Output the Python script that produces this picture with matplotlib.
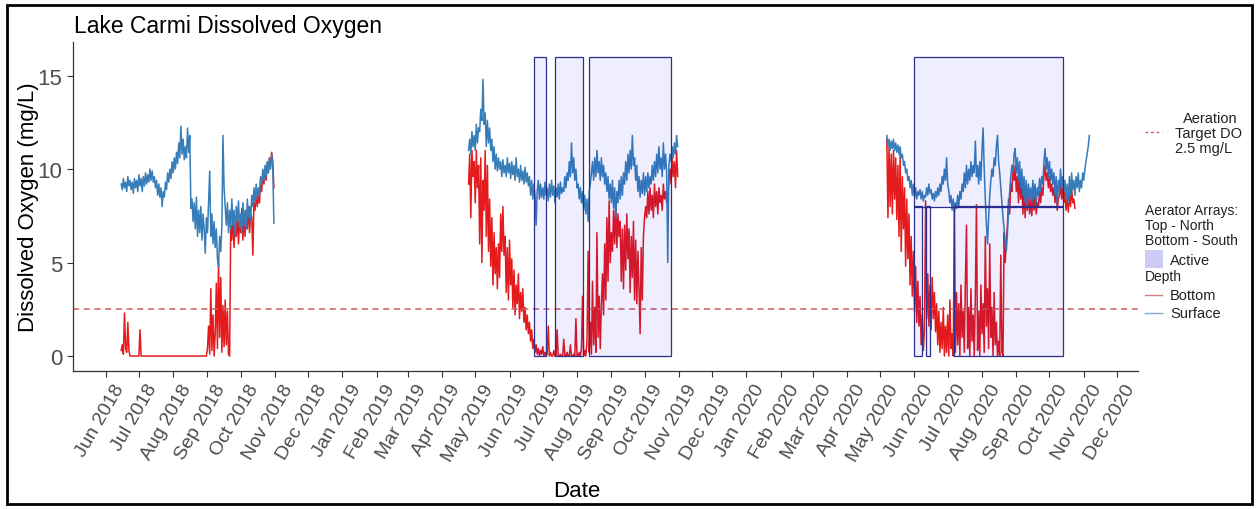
import numpy as np
import pandas as pd
import matplotlib
matplotlib.use("Agg")
import matplotlib.pyplot as plt
import matplotlib.dates as mdates
import matplotlib.transforms as mtransforms
from matplotlib.patches import Rectangle
from matplotlib.lines import Line2D

plt.rcParams['font.family'] = ['Liberation Sans', 'DejaVu Sans']
nan = np.nan

# ---------------- data (daily readings) ----------------
start_2018 = "2018-06-15"
surface_2018 = [9.2, 8.9, 9.5, 9.0, 9.3, 8.8, 9.6, 9.1, 9.4, 8.9,
                9.3, 8.7, 9.5, 9.0, 9.4, 8.8, 9.7, 9.1, 9.5, 8.8,
                9.6, 9.1, 9.8, 9.2, 9.7, 9.3, 10.0, 9.4, 9.9, 9.3,
                9.6, 9.0, 9.4, 8.6, 9.2, 8.5, 9.0, 8.0, 8.8, 8.5,
                9.3, 8.9, 9.8, 9.3, 10.0, 9.5, 10.4, 9.8, 10.6, 10.0,
                10.9, 10.3, 11.4, 10.6, 12.3, 10.8, 11.6, 10.5, 11.2, 10.6, 12.2, 10.9, 11.8,
                7.9,
                8.4, 7.2, 8.2, 6.8, 8.5, 6.4, 7.8, 6.6, 8.0, 6.2, 7.6, 6.8, 5.5, 7.4, 6.6,
                8.2, 9.9, 6.4, 7.6, 6.0, 7.2,
                5.8, 6.8, 5.2, 4.8, 6.4, 5.6, 7.0,
                11.8, 9.0,
                8.0, 7.0, 8.2, 6.6, 7.8, 6.8, 8.4, 7.0, 7.8, 6.4, 8.0, 7.2, 8.3, 6.9, 7.6,
                6.6, 8.2, 7.0, 7.8, 6.8, 8.4, 7.4, 8.0, 7.2,
                8.6, 8.0, 9.0, 8.2, 9.2, 8.4, 9.0, 8.6,
                9.6, 9.2, 10.0, 9.4, 10.2, 9.6, 10.4, 9.8, 10.6, 10.0, 10.8, 10.2,
                7.1]
bottom_2018 = [0.3, 0.6, 0.1, 2.3, 0.4, 0.2, 1.8, 0.3, 0.0, 0.0,
               0.0, 0.0, 0.0, 0.0, 0.0, 0.0, 0.0, 1.4, 0.0, 0.0,
               0.0, 0.0, 0.0, 0.0, 0.0, 0.0, 0.0, 0.0, 0.0, 0.0,
               0.0, 0.0, 0.0, 0.0, 0.0, 0.0, 0.0, 0.0, 0.0, 0.0,
               0.0, 0.0, 0.0, 0.0, 0.0, 0.0, 0.0, 0.0, 0.0, 0.0,
               0.0, 0.0, 0.0, 0.0, 0.0, 0.0, 0.0, 0.0, 0.0, 0.0, 0.0, 0.0, 0.0,
               0.0,
               0.0, 0.0, 0.0, 0.0, 0.0, 0.0, 0.0, 0.0, 0.0, 0.0, 0.0, 0.0, 0.0, 0.0,
               0.4, 1.6, 0.1, 3.6, 0.3, 2.2, 0.0,
               1.2, 3.9, 0.4, 5.0, 1.0, 4.2, 0.2,
               2.7, 0.5,
               3.0, 0.6, 2.4, 0.1, 0.0,
               7.0, 6.2, 7.6, 5.8, 7.2, 6.4, 7.8, 6.0, 7.4, 6.6, 7.9, 6.2, 7.6, 6.4,
               7.8, 6.8, 8.0, 6.6, 7.6,
               7.4, 5.4, 8.2, 7.8, 8.8, 8.0, 8.6, 8.2,
               9.4, 8.8, 9.8, 9.2, 10.0, 9.4, 10.3, 9.8, 10.6, 10.2, 10.9, 10.4,
               9.0]

start_2019 = "2019-04-25"
surface_2019 = [11.0, 11.6, 10.8, 12.0, 11.2, 11.8, 11.0, 12.4, 11.4, 12.2,
                12.0, 13.2, 12.6, 14.8, 12.4, 13.0, 11.2, 12.6, 11.4, 12.2,
                11.0, 11.6, 10.4, 11.2, 10.0, 10.8, 9.9, 10.6, 10.0, 10.4,
                9.6, 10.5, 9.8, 10.2, 9.6, 10.6, 9.8, 10.3, 9.5, 10.4,
                9.7, 10.2, 9.4, 10.6, 9.6, 10.0, 9.3, 10.2, 9.4, 9.9,
                9.2, 10.1, 9.3, 9.8, 9.1, 9.6, 8.6, 9.4, 8.4, 9.2,
                8.6, 7.0, 8.8, 9.4, 8.4, 9.2, 8.5, 9.0, 8.4, 9.3,
                8.6, 9.0, 8.3, 9.2, 8.5, 9.4, 8.6, 9.1, 8.2, 9.0,
                8.5, 9.2, 8.4, 9.3, 8.7, 9.0, 8.8, 9.6, 9.0, 9.8,
                9.4, 10.4, 9.6, 11.4, 9.8, 10.6, 9.4, 10.0, 9.0, 9.2,
                8.4, 9.0, 8.2, 8.8, 7.8, 8.6, 7.6, 8.4, 7.2, 8.8,
                9.2, 9.8, 10.4, 9.4, 10.6, 9.6, 11.0, 9.8, 10.4, 9.4,
                10.6, 9.6, 10.2, 9.2, 9.8, 8.8, 9.6, 8.4, 9.2, 8.2,
                9.4, 7.9, 9.0, 7.4, 8.8, 8.2, 9.4, 8.4, 9.6, 8.6,
                9.8, 9.2, 10.4, 9.4, 10.8, 9.8, 11.0, 10.0, 11.8, 10.2,
                10.6, 9.4, 10.2, 8.8, 9.6, 8.5, 9.4, 8.7, 9.8, 8.6,
                9.6, 8.8, 9.8, 9.0, 9.6, 9.2, 10.2, 9.4, 10.4, 9.6,
                10.8, 9.8, 11.2, 10.0, 10.6, 9.6, 11.4, 10.0, 10.8, 9.8,
                5.0, 10.2, 10.8, 10.4, 11.2, 10.6, 11.4, 10.8, 11.8, 11.2]
bottom_2019 = [9.2, 10.8, 7.4, 11.0, 9.6, 10.4, 8.2, 11.0, 9.0, 10.2,
               6.0, 10.6, 5.0, 9.4, 7.8, 11.0, 6.4, 10.2, 5.6, 8.4,
               4.8, 7.4, 3.8, 6.6, 4.4, 5.8, 3.6, 6.0, 4.2, 7.6,
               5.6, 8.0, 5.4, 6.4, 3.4, 5.8, 3.0, 6.2, 3.8, 5.2,
               2.6, 4.6, 2.2, 3.8, 2.8, 4.4, 2.0, 3.4, 2.4, 3.6,
               1.8, 2.6, 1.4, 2.2, 1.2, 1.8, 0.8, 1.4, 0.4, 0.9,
               0.2, 0.6, 0.1, 0.4, 0.0, 0.3, 0.1, 0.5, 0.0, 0.2,
               0.0, 0.1, 1.6, 0.0, 0.2, 0.0, 0.0, 0.3, 0.0, 0.0,
               1.4, 0.0, 0.0, 0.1, 0.0, 0.0, 0.9, 0.0, 0.0, 0.2,
               0.0, 0.0, 0.6, 0.0, 0.0, 0.1, 0.0, 2.0, 0.0, 0.0,
               0.2, 0.0, 0.4, 3.2, 0.0, 0.3, 0.0, 0.8, 5.6, 0.2,
               1.8, 0.1, 4.0, 0.6, 2.6, 0.2, 6.6, 1.0, 3.2, 0.4,
               2.8, 4.4, 2.2, 6.0, 3.0, 7.4, 4.0, 8.3, 5.0, 6.6,
               5.6, 7.8, 6.0, 8.2, 5.8, 7.6, 6.4, 7.2, 4.0, 6.8,
               3.6, 7.0, 4.6, 7.6, 5.2, 6.8, 3.4, 6.4, 4.2, 7.2,
               3.0, 6.2, 2.8, 5.6, 3.6, 1.2, 5.8, 3.0, 6.4, 7.4,
               8.0, 7.4, 8.8, 7.6, 9.0, 7.8, 8.6, 7.4, 9.2, 8.0,
               8.8, 7.6, 9.0, 8.2, 8.6, 7.8, 9.2, 8.4, 8.8, 8.2,
               8.6, 9.4, 10.0, 9.2, 10.6, 9.6, 10.4, 9.0, 11.0, 9.6]

start_2020 = "2020-05-07"
surface_2020 = [11.8, 11.2, 11.6, 11.0, 11.5, 11.1, 11.6, 11.0, 11.4, 10.9,
                11.3, 10.8, 11.2, 10.6, 10.8, 10.2, 10.4, 9.8, 10.0, 9.4,
                9.6, 9.0, 9.4, 8.6, 9.2, 8.5, 9.0, 8.4, 8.8, 8.6,
                8.9, 8.4, 8.8, 8.3, 8.6, 8.5, 9.0, 8.6, 9.2, 8.7,
                8.9, 8.4, 8.7, 8.3, 8.8, 8.5, 9.0, 8.6, 9.2, 8.8,
                9.6, 9.2, 10.0, 9.4, 10.6, 9.2, 8.8, 8.2, 8.6, 7.8,
                8.4, 7.7, 8.2, 7.9, 8.6, 8.0, 8.8, 8.4, 9.2, 8.8,
                9.8, 9.0, 10.2, 9.2, 10.0, 9.4, 10.4, 9.6, 10.2, 9.8,
                11.5, 9.6, 10.2, 9.2, 10.4, 9.4, 11.0, 12.2, 10.0, 8.4,
                7.0, 6.0, 7.4, 8.6, 9.4, 10.0, 9.6, 10.6, 10.2, 11.2,
                11.8, 10.4, 9.8, 9.0, 8.2, 7.4, 6.8, 6.0, 5.6, 6.6,
                7.8, 8.8, 9.6, 10.2, 9.8, 10.8, 11.1, 9.8, 10.6, 9.4,
                10.4, 9.0, 10.0, 8.6, 9.6, 8.2, 9.4, 8.0, 9.2, 8.4,
                9.0, 8.2, 9.4, 8.4, 9.2, 8.1, 9.0, 8.6, 9.5, 8.8,
                9.6, 9.2, 10.4, 11.1, 10.0, 10.6, 9.6, 10.4, 9.4, 10.0,
                9.2, 9.8, 8.6, 9.6, 8.1, 9.4, 8.8, 10.0, 9.0, 9.6,
                8.8, 9.4, 8.4, 9.2, 8.2, 9.6, 8.6, 9.8, 8.9, 9.4,
                8.6, 9.6, 9.0, 9.8, 8.8, 9.4, 9.0, 9.8, 9.4, 10.0,
                10.4, 10.8, 11.2, 11.8]
bottom_2020 = [11.6, 7.4, 11.2, 8.0, 10.8, 7.6, 11.0, 8.4, 10.6, 7.3,
               10.2, 6.4, 10.8, 5.6, 9.6, 6.8, 9.0, 4.8, 8.4, 5.2,
               7.6, 3.8, 6.4, 3.2, 5.6, 2.4, 4.8, 1.8, 4.0, 1.6,
               3.2, 0.6, 2.2, 0.3, 1.4, 8.3, 2.0, 4.4, 1.6, 3.8,
               1.4, 4.2, 2.0, 3.4, 1.3, 2.8, 0.6, 2.4, 0.2, 1.8,
               0.4, 2.6, 0.0, 1.6, 0.2, 2.2, 0.0, 3.0, 0.4, 1.2,
               0.0, 7.9, 0.2, 3.4, 0.6, 2.8, 0.0, 3.8, 1.0, 2.4,
               0.2, 4.0, 7.0, 0.4, 2.6, 0.0, 3.6, 0.8, 2.2, 0.0,
               3.2, 8.1, 0.3, 2.4, 0.0, 3.8, 1.2, 2.8, 0.2, 6.4,
               1.6, 3.6, 0.4, 6.0, 1.0, 2.6, 0.0, 3.4, 0.6, 1.8,
               0.0, 0.8, 0.0, 5.4, 0.2, 0.0, 6.6, 5.0, 6.2, 7.0,
               8.4, 7.6, 9.2, 8.8, 10.0, 9.4, 10.2, 8.8, 9.6, 8.2,
               9.8, 8.4, 9.4, 7.6, 9.0, 7.4, 8.8, 7.8, 8.6, 7.6,
               8.4, 7.5, 8.6, 7.8, 8.8, 7.6, 8.2, 8.0, 8.8, 8.2,
               9.0, 8.6, 9.6, 10.2, 9.4, 9.8, 9.0, 9.6, 8.8, 9.2,
               8.6, 9.0, 8.2, 8.8, 7.8, 8.4, 8.6, 9.4, 8.4, 9.0,
               8.2, 8.8, 7.8, 8.6, 7.7, 8.8, 8.0, 9.0, 8.2, 8.4,
               7.9, nan, nan, nan, nan, nan, nan, nan, nan, nan,
               nan, nan, nan, nan]

# aeration periods (both arrays, 2019)
aer_2019_start = ["2019-06-23", "2019-07-12", "2019-08-12"]
aer_2019_end = ["2019-07-04", "2019-08-06", "2019-10-25"]
# north array 2020 (top half)
north_2020_start = ["2020-06-01"]
north_2020_end = ["2020-10-13"]
# south array 2020 (bottom half)
south_2020_start = ["2020-06-01", "2020-06-11", "2020-07-07"]
south_2020_end = ["2020-06-08", "2020-06-15", "2020-10-13"]

target_do = 2.5
box_top = 16.0
box_mid = 8.0

month_ticks = pd.date_range("2018-06-01", "2020-12-01", freq="MS")
tick_labels = [d.strftime("%b %Y") for d in month_ticks]

# ---------------- figure ----------------
W, H = 1259, 510
fig = plt.figure(figsize=(W / 100, H / 100), dpi=100)
ax = fig.add_axes([72.5 / W, 1 - 372 / H, (1138 - 72.5) / W, (372 - 43) / H])

RED = "#E41A1C"
BLUE = "#377EB8"

seasons = [(start_2018, surface_2018, bottom_2018),
           (start_2019, surface_2019, bottom_2019),
           (start_2020, surface_2020, bottom_2020)]
for start, surf, bot in seasons:
    dates = pd.date_range(start, periods=len(bot), freq="D")
    ax.plot(dates, bot, color=RED, lw=1.1)
for start, surf, bot in seasons:
    dates = pd.date_range(start, periods=len(surf), freq="D")
    ax.plot(dates, surf, color=BLUE, lw=1.1)

ax.axhline(target_do, color="#CD5C5C", lw=1.1, ls=(0, (4, 3)))

FACE = (0.0, 0.0, 1.0, 0.065)
EDGE = "#2E2E8C"


def draw_rects(starts, ends, y0, y1):
    for s, e in zip(starts, ends):
        x0 = mdates.date2num(pd.Timestamp(s))
        x1 = mdates.date2num(pd.Timestamp(e))
        ax.add_patch(Rectangle((x0, y0), x1 - x0, y1 - y0, facecolor=FACE,
                               edgecolor=EDGE, lw=0.9, zorder=3))


draw_rects(aer_2019_start, aer_2019_end, 0, box_top)
draw_rects(north_2020_start, north_2020_end, box_mid, box_top)
draw_rects(south_2020_start, south_2020_end, 0, box_mid)

ax.set_xlim(pd.Timestamp("2018-05-02"), pd.Timestamp("2020-12-20"))
ax.set_ylim(-0.8, 16.8)
ax.set_yticks([0, 5, 10, 15])
ax.set_xticks(month_ticks)
ax.set_xticklabels([])
lab_trans = mtransforms.blended_transform_factory(ax.transData, ax.transAxes) + \
    mtransforms.ScaledTranslation(7 / 100, -10 / 100, fig.dpi_scale_trans)
for d, lab in zip(month_ticks, tick_labels):
    ax.text(d, 0, lab, transform=lab_trans, rotation=60, ha="right", va="top",
            rotation_mode="anchor", fontsize=14, color="#4D4D4D", clip_on=False)
ax.tick_params(axis="y", labelsize=16, labelcolor="#4D4D4D", color="#333333",
               length=4, width=0.8)
ax.tick_params(axis="x", color="#333333", length=4, width=0.8)
for s in ["top", "right"]:
    ax.spines[s].set_visible(False)
for s in ["left", "bottom"]:
    ax.spines[s].set_color("#333333")
    ax.spines[s].set_linewidth(0.9)
ax.set_ylabel("Dissolved Oxygen (mg/L)", fontsize=16, labelpad=-1)
ax.set_xlabel("Date", fontsize=16)
ax.xaxis.set_label_coords((577 - 72.5) / (1138 - 72.5), -(481 - 372) / (372 - 43))

# ---------------- overlay: title, legend, border ----------------
ov = fig.add_axes([0, 0, 1, 1], facecolor="none")
ov.set_xlim(0, W)
ov.set_ylim(H, 0)
ov.axis("off")

ov.text(74, 26, "Lake Carmi Dissolved Oxygen", fontsize=16.5, va="center", ha="left")

ov.add_line(Line2D([1145, 1162], [133, 133], color="#CD5C5C", lw=1.0, ls=(0, (2, 2))))
ov.text(1183, 119, "Aeration", fontsize=10.5, va="center", ha="left", color="#222222")
ov.text(1175, 134, "Target DO", fontsize=10.5, va="center", ha="left", color="#222222")
ov.text(1175, 149, "2.5 mg/L", fontsize=10.5, va="center", ha="left", color="#222222")

ov.text(1145, 211, "Aerator Arrays:", fontsize=10, va="center", ha="left", color="#222222")
ov.text(1145, 226, "Top - North", fontsize=10, va="center", ha="left", color="#222222")
ov.text(1145, 241, "Bottom - South", fontsize=10, va="center", ha="left", color="#222222")
ov.add_patch(Rectangle((1145, 251), 18, 18, facecolor="#CCCCF6", edgecolor="none"))
ov.text(1170, 261, "Active", fontsize=10.5, va="center", ha="left", color="#222222")

ov.text(1145, 277, "Depth", fontsize=10, va="center", ha="left", color="#222222")
ov.add_line(Line2D([1145, 1162], [296, 296], color="#D08080", lw=1.0))
ov.text(1170, 296, "Bottom", fontsize=10.5, va="center", ha="left", color="#222222")
ov.add_line(Line2D([1145, 1162], [314, 314], color="#7FA6CC", lw=1.0))
ov.text(1170, 314, "Surface", fontsize=10.5, va="center", ha="left", color="#222222")

ov.add_patch(Rectangle((7, 6), 1245, 499, facecolor="none", edgecolor="black", lw=2))

fig.savefig("out.png", dpi=100)
